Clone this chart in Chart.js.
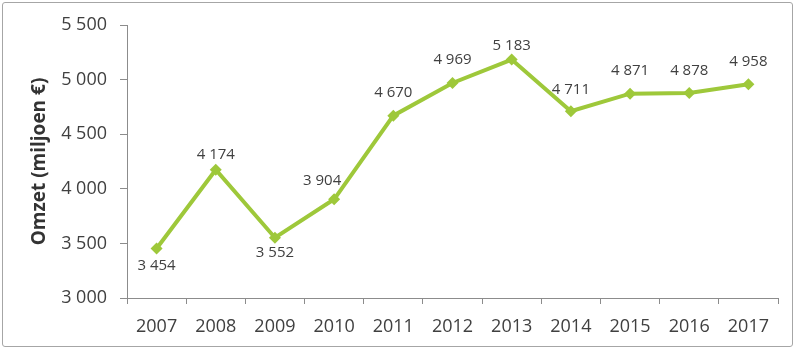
<!DOCTYPE html>
<html>
<head>
<meta charset="utf-8">
<script src="https://cdn.jsdelivr.net/npm/chart.js@4/dist/chart.umd.min.js"></script>
<style>
  html, body { margin: 0; padding: 0; background: #fff; }
  #wrap { position: relative; width: 800px; height: 355px; }
  #frame { position: absolute; left: 2px; top: 2px; width: 791px; height: 345px; border: 1.5px solid #a6a6a6; border-radius: 3px; box-sizing: border-box; pointer-events: none; }
  canvas { position: absolute; left: 0; top: 0; }
</style>
</head>
<body>
<div id="wrap">
  <canvas id="c" width="800" height="355"></canvas>
  <div id="frame"></div>
</div>
<script>
const years = ['2007','2008','2009','2010','2011','2012','2013','2014','2015','2016','2017'];
const omzet = [3454, 4174, 3552, 3904, 4670, 4969, 5183, 4711, 4871, 4878, 4958];
const yTitle = 'Omzet (miljoen €)';
// label offsets relative to each point (style only)
const labelDx = [0, 0, 0, -12, 0, 0, 0, 0, 0, 0, 0];
const labelDy = [17, -15, 15, -19, -23, -23, -14, -21, -23, -22, -22];

function fmt(v) {
  return String(v).replace(/\B(?=(\d{3})+(?!\d))/g, ' ');
}

const textColor = '#404040';
const lineColor = '#9ec83a';
const axisColor = '#8c8c8c';

const labelPlugin = {
  id: 'valueLabels',
  afterDatasetsDraw(chart) {
    const ctx = chart.ctx;
    const meta = chart.getDatasetMeta(0);
    ctx.save();
    ctx.font = '15px "Open Sans"';
    ctx.fillStyle = textColor;
    ctx.textAlign = 'center';
    ctx.textBaseline = 'middle';
    meta.data.forEach((pt, i) => {
      ctx.fillText(fmt(omzet[i]), pt.x + labelDx[i], pt.y + labelDy[i]);
    });
    ctx.restore();
  }
};

new Chart(document.getElementById('c'), {
  type: 'line',
  data: {
    labels: years,
    datasets: [{
      data: omzet,
      borderColor: lineColor,
      backgroundColor: lineColor,
      borderWidth: 4,
      tension: 0,
      pointStyle: 'rectRot',
      pointRadius: 6,
      pointBorderWidth: 0,
      pointBackgroundColor: lineColor,
      fill: false
    }]
  },
  options: {
    responsive: false,
    animation: false,
    devicePixelRatio: 1,
    layout: { padding: { left: 28, top: 25, right: 22, bottom: 0 } },
    plugins: { legend: { display: false }, tooltip: { enabled: false } },
    scales: {
      x: {
        type: 'category',
        offset: true,
        grid: { display: true, offset: true, drawOnChartArea: false, drawTicks: true, tickLength: 6, color: axisColor },
        border: { display: true, color: axisColor, width: 1 },
        ticks: { color: textColor, font: { family: 'Open Sans', size: 18 }, padding: 12, maxRotation: 0 },
        afterFit: s => { s.height = 57; }
      },
      y: {
        min: 3000,
        max: 5500,
        grid: { display: true, drawOnChartArea: false, drawTicks: true, tickLength: 7, color: axisColor },
        border: { display: true, color: axisColor, width: 1 },
        ticks: { stepSize: 500, color: textColor, font: { family: 'Open Sans', size: 18 }, padding: 13, callback: v => fmt(v) },
        title: { display: true, text: yTitle, color: '#333333', font: { family: 'Open Sans', size: 19, weight: 'bold' }, padding: 0 },
        afterFit: s => { s.width = 99; }
      }
    }
  },
  plugins: [labelPlugin]
});
</script>
</body>
</html>
